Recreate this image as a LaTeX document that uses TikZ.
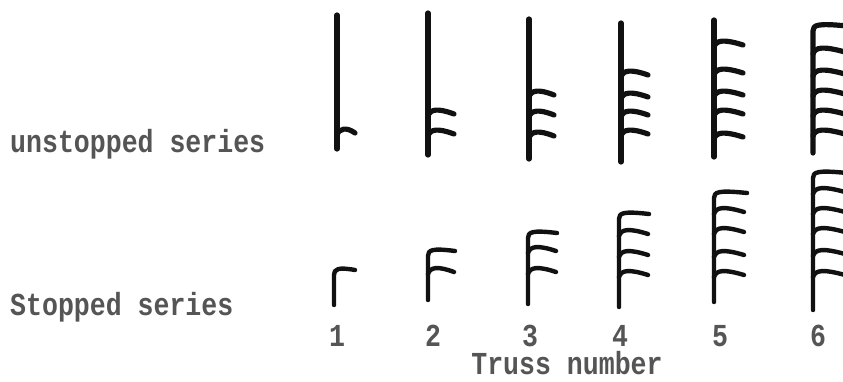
\documentclass[tikz,border=0pt]{standalone}
\usepackage{fontspec}
\newfontfamily\typewr[FakeStretch=0.83]{Liberation Mono}
\definecolor{ink}{HTML}{111111}
\definecolor{typegray}{HTML}{555555}
\tikzset{
  stemline/.style={line width=5.2pt, line cap=round, line join=round, ink},
  stemthin/.style={line width=4.4pt, line cap=round, line join=round, ink},
  lbl/.style={font=\typewr\bfseries\fontsize{32}{36}\selectfont, text=typegray, inner sep=0pt, text height=19pt, text depth=0pt},
}
% hook branch: x, y, width
\newcommand\hookbr[4][stemline]{%
  \draw[#1] ({#2},{#3+4}) .. controls ({#2+2},{#3-3}) and ({#2+10},{#3-4}) .. ({#2+#4},{#3+2});}
% straight stem: x, top, bottom
\newcommand\straightstem[4][stemline]{%
  \draw[#1] ({#2},{#3}) -- ({#2},{#4});}
% stem bending into top branch: x, top, bottom, width
\newcommand\topstem[5][stemline]{%
  \draw[#1] ({#2},{#4}) -- ({#2},{#3+7}) .. controls ({#2},{#3+1}) and ({#2+4},{#3-1}) .. ({#2+#5},{#3+2});}
\begin{document}
\begin{tikzpicture}[x=1pt,y=-1pt]
\useasboundingbox (0,0) rectangle (843,381);
\fill[white] (0,0) rectangle (843,381);
% ---- unstopped series ----
\straightstem{337}{15}{149}
\hookbr{337}{131}{18}
\straightstem{428}{13}{155}
\foreach \yy in {112,132} {\hookbr{428}{\yy}{26}}
\straightstem{529}{19}{159}
\foreach \yy in {93,113,134} {\hookbr{529}{\yy}{25}}
\straightstem{621}{23}{162}
\foreach \yy in {73,95,113,132} {\hookbr{621}{\yy}{27}}
\straightstem{714}{20}{157}
\foreach \yy in {43,71,93,112,135} {\hookbr{714}{\yy}{29}}
\topstem{813}{24}{153}{34}
\foreach \yy in {50,72,92,112,132} {\hookbr{813}{\yy}{32}}
% ---- stopped series ----
\topstem[stemthin]{334}{268}{305}{21}
\topstem[stemthin]{428}{249}{300}{27}
\hookbr[stemthin]{428}{270}{26}
\topstem[stemthin]{528}{231}{304}{29}
\foreach \yy in {249,270} {\hookbr[stemthin]{528}{\yy}{28}}
\topstem[stemthin]{619}{212}{307}{30}
\foreach \yy in {232,253,273} {\hookbr[stemthin]{619}{\yy}{29}}
\topstem[stemthin]{714}{191}{302}{33}
\foreach \yy in {210,230,253,273} {\hookbr[stemthin]{714}{\yy}{30}}
\topstem[stemthin]{813}{171}{310}{34}
\foreach \yy in {190,210,230,252,273} {\hookbr[stemthin]{813}{\yy}{32}}
% ---- labels ----
\node[lbl, anchor=base west] (unst) at (10,152) {unstopped series};
\node[lbl, anchor=base west] (stop) at (10,315) {Stopped series};
\node[lbl, anchor=base] (n1) at (337,346) {1};
\node[lbl, anchor=base] (n2) at (433,346) {2};
\node[lbl, anchor=base] (n3) at (530,346) {3};
\node[lbl, anchor=base] (n4) at (620,346) {4};
\node[lbl, anchor=base] (n5) at (720,346) {5};
\node[lbl, anchor=base] (n6) at (818,346) {6};
\node[lbl, anchor=base] (tn) at (567,374) {Truss number};
\end{tikzpicture}
\end{document}
